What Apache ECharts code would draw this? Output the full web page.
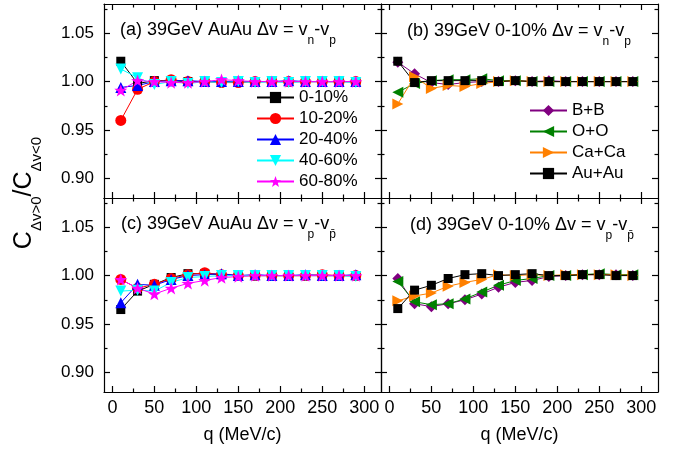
<!DOCTYPE html>
<html><head><meta charset="utf-8">
<script src="https://cdn.jsdelivr.net/npm/echarts@6/dist/echarts.min.js"></script>
<style>html,body{margin:0;padding:0;background:#fff}#c{width:683px;height:456px}</style>
</head><body><div id="c"></div>
<script>
// ---------- data ----------
const qValues = [10, 30, 50, 70, 90, 110, 130, 150, 170, 190, 210, 230, 250, 270, 290];
const centralities = ['0-10%', '10-20%', '20-40%', '40-60%', '60-80%'];
const systems = ['B+B', 'O+O', 'Ca+Ca', 'Au+Au'];
const xMajorTicks = [0, 50, 100, 150, 200, 250, 300];
const xMinorTicks = [25, 75, 125, 175, 225, 275];
const yMajorTicks = [0.90, 0.95, 1.00, 1.05];
const yMinorTicks = [0.925, 0.975, 1.025, 1.075];

// (a) AuAu, dv = vn - vp
const a_0_10  = [1.021, 0.998, 1.001, 1.001, 1.000, 1.000, 1.000, 1.000, 1.000, 1.000, 1.000, 1.000, 1.000, 1.000, 1.000];
const a_10_20 = [0.960, 0.992, 1.000, 1.002, 1.000, 1.000, 0.999, 0.999, 1.000, 1.000, 1.000, 1.000, 1.000, 1.000, 1.000];
const a_20_40 = [0.994, 0.996, 1.000, 1.001, 1.001, 1.000, 1.000, 1.000, 1.000, 1.000, 1.001, 1.000, 1.000, 1.000, 1.000];
const a_40_60 = [1.013, 1.004, 0.997, 1.000, 0.998, 1.000, 0.999, 1.000, 0.999, 1.000, 0.999, 1.000, 1.000, 1.000, 0.999];
const a_60_80 = [0.991, 1.001, 1.000, 0.999, 0.999, 1.000, 1.002, 1.001, 1.000, 1.000, 1.000, 1.000, 1.000, 1.000, 1.000];
// (b) 0-10%, dv = vn - vp
const b_BB   = [1.020, 1.008, 0.999, 0.997, 0.999, 1.000, 1.000, 1.001, 1.000, 1.001, 1.000, 1.000, 1.000, 1.000, 1.000];
const b_OO   = [0.989, 0.998, 1.001, 1.002, 1.002, 1.003, 1.001, 1.001, 1.000, 1.000, 1.000, 1.000, 1.000, 1.000, 1.000];
const b_CaCa = [0.977, 1.005, 0.993, 0.996, 0.995, 0.998, 1.000, 1.001, 1.000, 1.000, 1.000, 1.000, 1.000, 1.000, 1.000];
const b_AuAu = [1.021, 0.999, 1.001, 1.001, 1.001, 1.001, 1.000, 1.001, 1.000, 1.000, 1.000, 1.000, 1.000, 1.000, 1.000];
// (c) AuAu, dv = vp - vpbar
const c_0_10  = [0.965, 0.984, 0.991, 0.998, 1.002, 1.002, 1.001, 1.000, 1.000, 1.000, 1.000, 1.000, 1.000, 1.000, 1.000];
const c_10_20 = [0.996, 0.987, 0.991, 0.997, 1.001, 1.003, 1.001, 1.000, 1.000, 1.000, 1.000, 1.000, 1.001, 1.000, 1.000];
const c_20_40 = [0.972, 0.991, 0.990, 0.996, 1.000, 1.001, 1.002, 1.000, 1.001, 1.000, 1.000, 1.001, 1.000, 1.000, 1.001];
const c_40_60 = [0.984, 0.985, 0.984, 0.993, 0.998, 0.999, 1.000, 1.000, 1.000, 1.000, 1.000, 1.000, 1.000, 1.000, 0.999];
const c_60_80 = [0.996, 0.987, 0.981, 0.987, 0.992, 0.995, 0.998, 0.999, 1.000, 1.000, 1.000, 1.000, 1.000, 1.000, 1.000];
// (d) 0-10%, dv = vp - vpbar
const d_BB   = [0.997, 0.971, 0.968, 0.971, 0.975, 0.981, 0.988, 0.993, 0.995, 0.999, 1.000, 1.001, 1.001, 1.001, 1.000];
const d_OO   = [0.994, 0.973, 0.970, 0.971, 0.976, 0.983, 0.990, 0.995, 0.997, 1.000, 1.000, 1.001, 1.002, 1.001, 1.001];
const d_CaCa = [0.974, 0.979, 0.982, 0.989, 0.993, 0.996, 1.001, 1.000, 1.001, 1.000, 1.001, 1.001, 1.001, 1.001, 1.000];
const d_AuAu = [0.966, 0.985, 0.990, 0.997, 1.001, 1.002, 1.000, 1.001, 1.002, 1.000, 1.000, 1.001, 1.001, 1.000, 1.000];

// ---------- styling ----------
const FONT = '"Liberation Sans", Arial, Helvetica, sans-serif';
const STAR = 'path://M0,-10L2.35,-3.24L9.51,-3.09L3.8,1.24L5.88,8.09L0,4L-5.88,8.09L-3.8,1.24L-9.51,-3.09L-2.35,-3.24Z';
const centStyle = [
  {color: '#000000', symbol: 'rect', size: 9, rot: 0},
  {color: '#ff0000', symbol: 'circle', size: 11, rot: 0},
  {color: '#0000ff', symbol: 'triangle', size: 11, rot: 0},
  {color: '#00ffff', symbol: 'triangle', size: 11, rot: 180},
  {color: '#ff00ff', symbol: STAR, size: 13, rot: 0}
];
const sysStyle = [
  {color: '#800080', symbol: 'diamond', size: 11, rot: 0},
  {color: '#008000', symbol: 'triangle', size: 11, rot: 90},
  {color: '#ff8000', symbol: 'triangle', size: 11, rot: -90},
  {color: '#000000', symbol: 'rect', size: 9, rot: 0}
];

const grids = [
  {left: 104, top: 4, width: 277, height: 194},
  {left: 381, top: 4, width: 277, height: 194},
  {left: 104, top: 198, width: 277, height: 194},
  {left: 381, top: 198, width: 277, height: 194}
];

const xAxes = [], yAxes = [];
const black = {color: '#000', width: 1.2};
grids.forEach((g, gi) => {
  const bottomRow = gi >= 2, leftCol = gi % 2 === 0;
  const xBase = {gridIndex: gi, type: 'value', min: -10, max: 320, splitLine: {show: false}};
  xAxes.push(Object.assign({}, xBase, {
    position: 'bottom',
    axisLine: {show: true, onZero: false, lineStyle: black},
    axisTick: {show: true, inside: true, length: 6, customValues: xMajorTicks, lineStyle: black},
    axisLabel: {show: bottomRow, customValues: xMajorTicks, margin: 7, fontSize: 18, color: '#000', fontFamily: FONT},
    name: bottomRow ? 'q (MeV/c)' : '', nameLocation: 'middle', nameGap: 34,
    nameTextStyle: {fontSize: 18, color: '#000', fontFamily: FONT}
  }));
  xAxes.push(Object.assign({}, xBase, {
    position: 'bottom', axisLine: {show: false, onZero: false},
    axisTick: {show: true, inside: true, length: 3.5, customValues: xMinorTicks, lineStyle: black},
    axisLabel: {show: false}
  }));
  xAxes.push(Object.assign({}, xBase, {
    position: 'top', axisLine: {show: true, onZero: false, lineStyle: black},
    axisTick: {show: true, inside: true, length: 6, customValues: xMajorTicks, lineStyle: black},
    axisLabel: {show: false}
  }));
  xAxes.push(Object.assign({}, xBase, {
    position: 'top', axisLine: {show: false, onZero: false},
    axisTick: {show: true, inside: true, length: 3.5, customValues: xMinorTicks, lineStyle: black},
    axisLabel: {show: false}
  }));
  const yBase = {gridIndex: gi, type: 'value', min: 0.88, max: 1.08, splitLine: {show: false}};
  yAxes.push(Object.assign({}, yBase, {
    position: 'left',
    axisLine: {show: true, onZero: false, lineStyle: black},
    axisTick: {show: true, inside: true, length: 6, customValues: yMajorTicks, lineStyle: black},
    axisLabel: {show: leftCol, customValues: yMajorTicks, margin: 10, fontSize: 17, color: '#000', fontFamily: FONT,
      formatter: v => Number(v).toFixed(2)}
  }));
  yAxes.push(Object.assign({}, yBase, {
    position: 'left', axisLine: {show: false, onZero: false},
    axisTick: {show: true, inside: true, length: 3.5, customValues: yMinorTicks, lineStyle: black},
    axisLabel: {show: false}
  }));
  yAxes.push(Object.assign({}, yBase, {
    position: 'right', axisLine: {show: true, onZero: false, lineStyle: black},
    axisTick: {show: true, inside: true, length: 6, customValues: yMajorTicks, lineStyle: black},
    axisLabel: {show: false}
  }));
  yAxes.push(Object.assign({}, yBase, {
    position: 'right', axisLine: {show: false, onZero: false},
    axisTick: {show: true, inside: true, length: 3.5, customValues: yMinorTicks, lineStyle: black},
    axisLabel: {show: false}
  }));
});

function mkSeries(name, values, gi, st) {
  return {
    type: 'line', name: name, xAxisIndex: gi * 4, yAxisIndex: gi * 4,
    data: qValues.map((q, i) => [q, values[i]]),
    symbol: st.symbol, symbolSize: st.size, symbolRotate: st.rot, symbolKeepAspect: true,
    showSymbol: true,
    itemStyle: {color: st.color},
    lineStyle: {color: st.color, width: 1},
    animation: false
  };
}
const series = [];
[a_0_10, a_10_20, a_20_40, a_40_60, a_60_80].forEach((v, i) => series.push(mkSeries(centralities[i], v, 0, centStyle[i])));
[b_BB, b_OO, b_CaCa, b_AuAu].forEach((v, i) => series.push(mkSeries(systems[i], v, 1, sysStyle[i])));
[c_0_10, c_10_20, c_20_40, c_40_60, c_60_80].forEach((v, i) => series.push(mkSeries(centralities[i], v, 2, centStyle[i])));
[d_BB, d_OO, d_CaCa, d_AuAu].forEach((v, i) => series.push(mkSeries(systems[i], v, 3, sysStyle[i])));

const titleRich = {
  b: {fontSize: 18, fontWeight: 'normal', fontFamily: FONT, color: '#000', verticalAlign: 'top', lineHeight: 20},
  s: {fontSize: 12, fontWeight: 'normal', fontFamily: FONT, color: '#000', verticalAlign: 'bottom', lineHeight: 26}
};
function mkTitle(text, left, top) {
  return {text: text, left: left, top: top, padding: 0, textStyle: {fontWeight: 'normal', rich: titleRich}};
}

const legendBase = {
  orient: 'vertical', itemWidth: 37, itemHeight: 14, itemGap: 4, padding: 0, selectedMode: false,
  textStyle: {fontSize: 17, lineHeight: 14, color: '#000', fontFamily: FONT}
};

const option = {
  backgroundColor: '#fff',
  animation: false,
  grid: grids,
  xAxis: xAxes,
  yAxis: yAxes,
  series: series,
  title: [
    mkTitle('{b|(a) 39GeV AuAu Δv = v}{s|n}{b|-v}{s|p}', 120, 21),
    mkTitle('{b|(b) 39GeV 0-10% Δv = v}{s|n}{b|-v}{s|p}', 407, 22),
    mkTitle('{b|(c) 39GeV AuAu Δv = v}{s|p}{b|-v}{s|p\u0304}', 121, 215),
    mkTitle('{b|(d) 39GeV 0-10% Δv = v}{s|p}{b|-v}{s|p\u0304}', 410, 216)
  ],
  legend: [
    Object.assign({}, legendBase, {data: centralities, left: 256, top: 89}),
    Object.assign({}, legendBase, {data: systems, left: 529, top: 102})
  ],
  graphic: [{
    type: 'text', x: 28, y: 193, rotation: Math.PI / 2,
    style: {
      text: '{C|C}{s|Δv>0}{C|/C}{s|Δv<0}',
      align: 'center', verticalAlign: 'middle',
      rich: {
        C: {fontSize: 25, fontFamily: FONT, fill: '#000', verticalAlign: 'top', lineHeight: 26},
        s: {fontSize: 15, fontFamily: FONT, fill: '#000', verticalAlign: 'bottom', lineHeight: 33}
      }
    }
  }]
};

const chart = echarts.init(document.getElementById('c'), null, {renderer: 'canvas'});
chart.setOption(option);
</script></body></html>
